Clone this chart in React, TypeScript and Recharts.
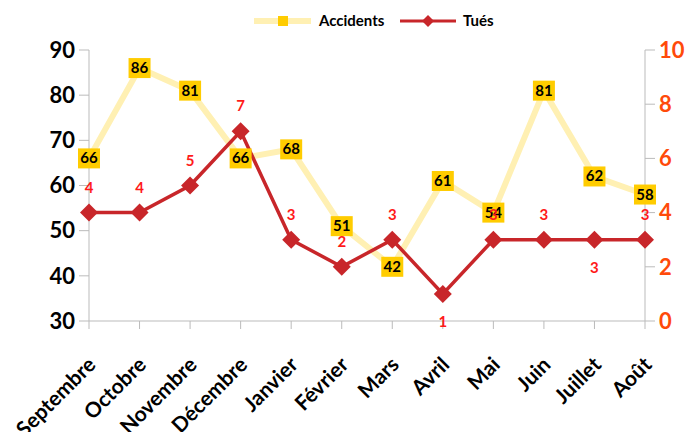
import React from 'react';
import { LineChart, Line, XAxis, YAxis } from 'recharts';

const months = ['Septembre', 'Octobre', 'Novembre', 'Décembre', 'Janvier', 'Février', 'Mars', 'Avril', 'Mai', 'Juin', 'Juillet', 'Août'];
const accidents = [66, 86, 81, 66, 68, 51, 42, 61, 54, 81, 62, 58];
const tues = [4, 4, 5, 7, 3, 2, 3, 1, 3, 3, 3, 3];
const tuesLabelSide = ['above', 'above', 'above', 'above', 'above', 'above', 'above', 'below', 'above', 'above', 'below', 'above'];
const leftTicks = [30, 40, 50, 60, 70, 80, 90];
const rightTicks = [0, 2, 4, 6, 8, 10];

const data = months.map((m, i) => ({ month: m, accidents: accidents[i], tues: tues[i] }));

const FONT = 'Lato, "Open Sans", sans-serif';
const ACC_LINE = '#FFF0B3';
const ACC_BOX = '#FFCC00';
const TUES = '#C8262A';
const RIGHT_COLOR = '#FF4A0A';

const AccDot = (props: any) => {
  const { cx, cy } = props;
  if (cx == null || cy == null) return null;
  return <rect x={cx - 6} y={cy - 6} width={12} height={12} fill={ACC_BOX} />;
};

const TuesDot = (props: any) => {
  const { cx, cy } = props;
  if (cx == null || cy == null) return null;
  const r = 9;
  return <polygon points={`${cx},${cy - r} ${cx + r},${cy} ${cx},${cy + r} ${cx - r},${cy}`} fill={TUES} />;
};

const AccLabel = (props: any) => {
  const { x, y, value } = props;
  if (x == null || y == null) return null;
  return (
    <g>
      <rect x={x - 11} y={y - 10} width={22} height={20} fill={ACC_BOX} />
      <text x={x} y={y + 5} textAnchor="middle" fontFamily={FONT} fontWeight={700} fontSize={15} fill="#000">{value}</text>
    </g>
  );
};

const TuesLabel = (props: any) => {
  const { x, y, value, index } = props;
  if (x == null || y == null) return null;
  const below = tuesLabelSide[index] === 'below';
  return (
    <text x={x} y={below ? y + 33 : y - 20} textAnchor="middle" fontFamily={FONT} fontWeight={700} fontSize={15} fill="#FF1A1A">{value}</text>
  );
};

const XTick = (props: any) => {
  const { x, y, payload } = props;
  const ax = x + 8;
  const ay = y + 35;
  return (
    <text x={ax} y={ay} textAnchor="end" transform={`rotate(-45 ${ax} ${ay})`} fontFamily={FONT} fontWeight={700} fontSize={21} fill="#000">{payload.value}</text>
  );
};

const LegendContent = () => (
  <svg width={686} height={40}>
    <line x1={254} y1={21} x2={311} y2={21} stroke={ACC_LINE} strokeWidth={6} />
    <rect x={278} y={16} width={10} height={10} fill={ACC_BOX} />
    <text x={319} y={26} fontFamily={FONT} fontWeight={700} fontSize={15} fill="#000">Accidents</text>
    <line x1={400} y1={21} x2={456} y2={21} stroke={TUES} strokeWidth={3} />
    <polygon points="428,15 434,21 428,27 422,21" fill={TUES} />
    <text x={463} y={26} fontFamily={FONT} fontWeight={700} fontSize={15} fill="#000">Tués</text>
  </svg>
);

export default function App() {
  return (
    <div style={{ position: 'absolute', left: 0, top: 0, width: 686, height: 432, background: '#fff', overflow: 'hidden' }}>
      <div style={{ position: 'absolute', left: 0, top: 0 }}>
        <LegendContent />
      </div>
      <LineChart width={686} height={432} data={data} margin={{ top: 50, right: 0, left: 0, bottom: 0 }} style={{ overflow: 'visible' }}>
        <XAxis dataKey="month" height={111} interval={0} tick={<XTick />} stroke="#BBBBBB" tickSize={8} />
        <YAxis yAxisId="left" orientation="left" width={89} domain={[30, 90]} ticks={leftTicks} stroke="#BBBBBB" tickSize={10}
          tick={{ fill: '#000', fontFamily: FONT, fontWeight: 700, fontSize: 22 }} tickMargin={4} />
        <YAxis yAxisId="right" orientation="right" width={41} domain={[0, 10]} ticks={rightTicks} stroke="#BBBBBB" tickSize={10}
          tick={{ fill: RIGHT_COLOR, fontFamily: FONT, fontWeight: 700, fontSize: 22 }} tickMargin={4} />
        <Line yAxisId="left" dataKey="accidents" stroke={ACC_LINE} strokeWidth={6} dot={<AccDot />} activeDot={false}
          label={<AccLabel />} isAnimationActive={false} />
        <Line yAxisId="right" dataKey="tues" stroke={TUES} strokeWidth={3.5} dot={<TuesDot />} activeDot={false}
          label={<TuesLabel />} isAnimationActive={false} />
      </LineChart>
    </div>
  );
}
